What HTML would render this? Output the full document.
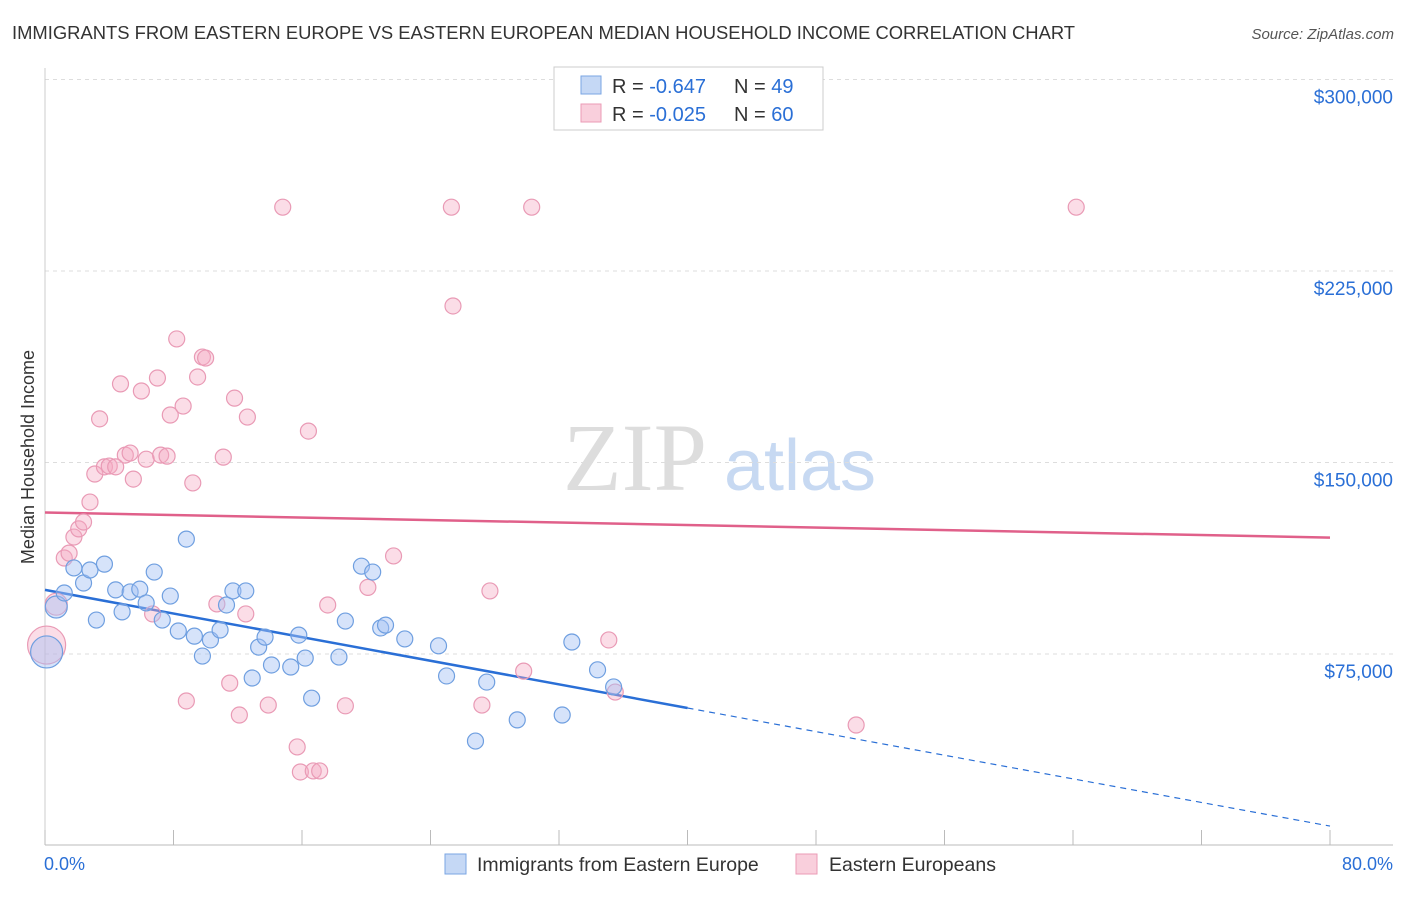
<!DOCTYPE html>
<html><head><meta charset="utf-8"><style>
body{margin:0;background:#fff;font-family:"Liberation Sans",sans-serif;}
</style></head><body>
<svg id="chart" width="1406" height="892" xmlns="http://www.w3.org/2000/svg" font-family="Liberation Sans, sans-serif">
<text x="12" y="39" font-size="18.4" fill="#333">IMMIGRANTS FROM EASTERN EUROPE VS EASTERN EUROPEAN MEDIAN HOUSEHOLD INCOME CORRELATION CHART</text>
<text x="1394" y="39" font-size="15" fill="#555" text-anchor="end" font-style="italic">Source: ZipAtlas.com</text>
<text transform="translate(34,457) rotate(-90)" font-size="18" fill="#333" text-anchor="middle">Median Household Income</text>
<g><text x="635" y="490" font-size="96" fill="#ddd" text-anchor="middle" font-family="Liberation Serif, serif">ZIP</text><text x="800" y="490" font-size="72" fill="#c7d9f2" text-anchor="middle">atlas</text></g>
<g id="grid"></g><g id="axes"></g><g id="lines"></g><g id="pts"></g>
<g>
<rect x="554" y="67" width="269" height="63" fill="#fff" stroke="#ccc"/>
<rect x="581" y="76" width="20" height="18" fill="#c5d8f5" stroke="#7aa6e3"/>
<rect x="581" y="104" width="20" height="18" fill="#f9cfdc" stroke="#eb9bb6"/>
<text x="612" y="93" font-size="20" fill="#333">R = <tspan fill="#2a6fd6">-0.647</tspan></text>
<text x="734" y="93" font-size="20" fill="#333">N = <tspan fill="#2a6fd6">49</tspan></text>
<text x="612" y="121" font-size="20" fill="#333">R = <tspan fill="#2a6fd6">-0.025</tspan></text>
<text x="734" y="121" font-size="20" fill="#333">N = <tspan fill="#2a6fd6">60</tspan></text>
</g>
<g>
<rect x="445" y="854" width="21" height="20" fill="#c5d8f5" stroke="#7aa6e3"/>
<text x="477" y="871" font-size="19.5" fill="#333">Immigrants from Eastern Europe</text>
<rect x="796" y="854" width="21" height="20" fill="#f9cfdc" stroke="#eb9bb6"/>
<text x="829" y="871" font-size="19.5" fill="#333">Eastern Europeans</text>
</g>
<text x="44" y="870" font-size="18" fill="#2a6fd6">0.0%</text>
<text x="1393" y="870" font-size="18" fill="#2a6fd6" text-anchor="end">80.0%</text>
</svg>
<script>
const yTicks=[75000,150000,225000,300000];
const yTickLabels=["$75,000","$150,000","$225,000","$300,000"];
const blueX=[0.1,0.7,1.2,1.8,2.4,2.8,3.2,3.7,4.4,4.8,5.3,5.9,6.3,6.8,7.3,7.8,8.3,8.8,9.3,9.8,10.3,10.9,11.3,11.7,12.5,12.9,13.3,13.7,14.1,15.3,15.8,16.2,16.6,18.3,18.7,19.7,20.4,20.9,21.2,22.4,24.5,25.0,26.8,27.5,29.4,32.2,32.8,34.4,35.4];
const blueY=[75.8,93.4,98.9,108.7,102.8,107.9,88.3,110.2,100.1,91.5,99.3,100.4,95.0,107.1,88.3,97.7,84.0,120.0,82.0,74.2,80.5,84.4,94.2,99.7,99.7,65.6,77.7,81.6,70.7,69.9,82.4,73.4,57.7,73.8,87.9,109.4,107.1,85.2,86.3,80.9,78.2,66.4,40.9,64.0,49.2,51.1,79.7,68.8,62.1];
const pinkX=[0.1,0.7,1.2,1.5,1.8,2.1,2.4,2.8,3.1,3.4,3.7,4.0,4.4,4.7,5.0,5.3,5.5,6.0,6.3,6.7,7.0,7.2,7.6,7.8,8.2,8.6,8.8,9.2,9.5,9.8,10.0,10.7,11.1,11.5,11.8,12.1,12.5,12.6,13.9,14.8,15.7,15.9,16.4,16.7,17.1,17.6,18.7,20.1,21.7,25.3,25.4,27.2,27.7,29.8,30.3,35.1,35.5,50.5,64.2];
const pinkY=[78.5,94.5,112.6,114.5,120.8,124.0,126.7,134.5,145.5,167.1,148.3,148.6,148.3,180.8,152.9,153.7,143.5,178.0,151.3,90.7,183.1,152.9,152.5,168.6,198.4,172.1,56.6,142.0,183.5,191.3,190.9,94.6,152.1,63.6,175.2,51.1,90.7,167.8,55.0,250.0,38.6,28.8,162.3,29.2,29.2,94.2,54.7,101.1,113.4,250.0,211.3,55.0,99.7,68.3,250.0,80.5,60.1,47.2,250.0];
const blueTrend=[100.1,7.6];
const pinkTrend=[130.4,120.6];
const NS="http://www.w3.org/2000/svg";
const sx=v=>45+v/80*1285;
const sy=v=>845.5-v/75000*191.5;
function mk(t,a,p){const e=document.createElementNS(NS,t);for(const k in a)e.setAttribute(k,a[k]);document.getElementById(p).appendChild(e);return e;}
yTicks.forEach((t,i)=>{
 const l=mk('line',{x1:45,x2:1393,y1:sy(t),y2:sy(t),stroke:'#ddd','stroke-dasharray':'4,4'},'grid');
 
 
 const tx=mk('text',{x:1393,y:sy(t)+24,'font-size':19,fill:'#2a6fd6','text-anchor':'end'},'axes');tx.textContent=yTickLabels[i];
 
 
});
const ax=mk('line',{x1:45,x2:1393,y1:845,y2:845,stroke:'#bbb'},'axes');


const ay=mk('line',{x1:45,x2:45,y1:68,y2:845,stroke:'#ccc'},'axes');


for(let i=0;i<=10;i++){const t=mk('line',{x1:sx(i*8),x2:sx(i*8),y1:830,y2:845,stroke:'#bbb'},'axes');
 
 }
function pts(X,Y,fill,stroke,name,r0){X.forEach((x,i)=>{const r=(i===0)?r0:(i===1?11:8);
 const c=mk('circle',{cx:sx(x),cy:sy(Y[i]*1000),r:r,fill:fill,stroke:stroke,'stroke-width':1.2},'pts');
 
 });}
pts(pinkX,pinkY,'rgba(244,170,195,0.4)','#e99ab5','point-eastern-europeans',19);
pts(blueX,blueY,'rgba(164,194,244,0.45)','#6f9fe0','point-immigrants',16);
const bl=mk('line',{x1:sx(0),y1:sy(blueTrend[0]*1000),x2:sx(40),y2:sy((blueTrend[0]+(blueTrend[1]-blueTrend[0])/2)*1000),stroke:'#2a6fd6','stroke-width':2.5},'lines');


const bd=mk('line',{x1:sx(40),y1:sy((blueTrend[0]+(blueTrend[1]-blueTrend[0])/2)*1000),x2:sx(80),y2:sy(blueTrend[1]*1000),stroke:'#2a6fd6','stroke-width':1.2,'stroke-dasharray':'6,5'},'lines');


const pl=mk('line',{x1:sx(0),y1:sy(pinkTrend[0]*1000),x2:sx(80),y2:sy(pinkTrend[1]*1000),stroke:'#e0608a','stroke-width':2.5},'lines');


</script>
</body></html>
